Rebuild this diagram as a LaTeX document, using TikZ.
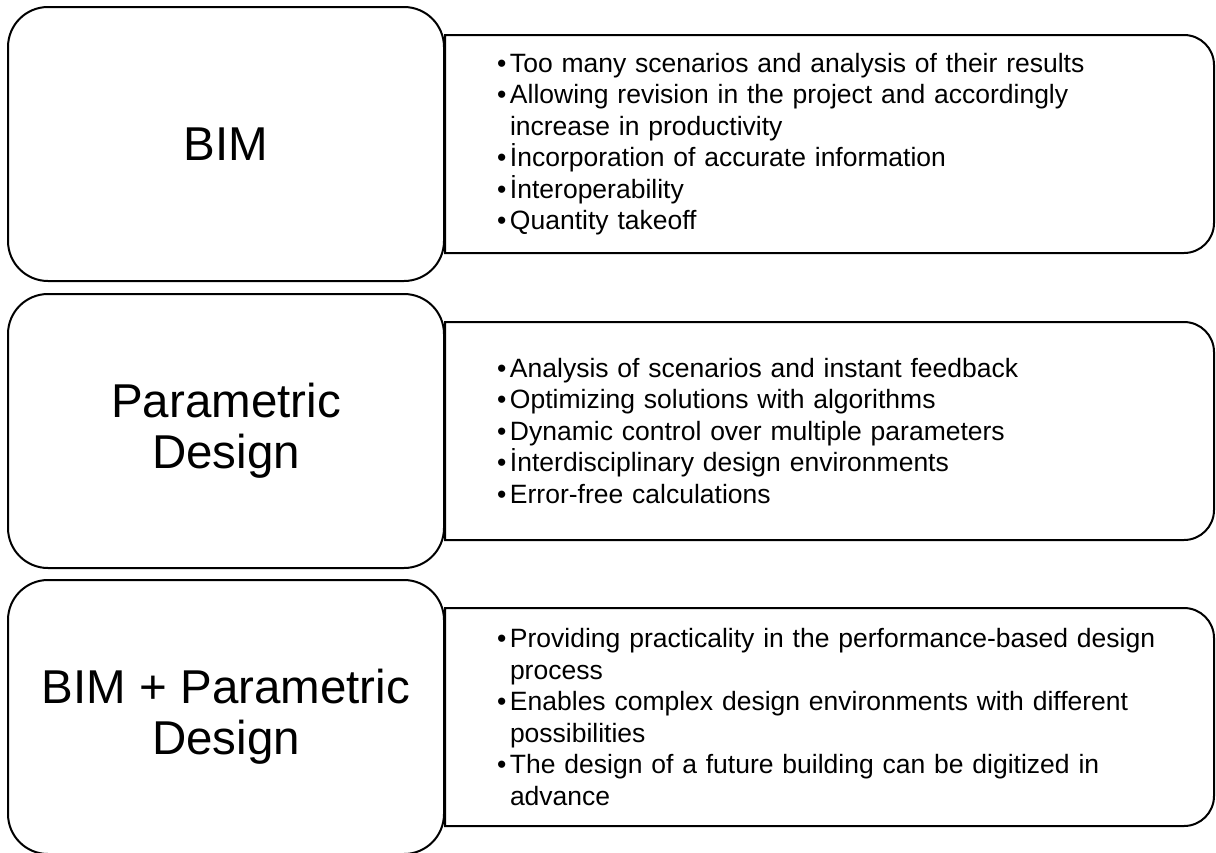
\documentclass[tikz,border=0pt]{standalone}
\usepackage{fontspec}
\setmainfont{Liberation Sans}
\usetikzlibrary{positioning}

\newcommand{\bul}{\makebox[6.5pt][l]{\textbullet}}
\newcommand{\cont}{\hspace*{6.5pt}}

\begin{document}
\begin{tikzpicture}[
    x=0.5pt, y=0.5pt,
    line width=1pt,
    topic/.style={draw, rounded corners=20pt, minimum width=218pt, minimum height=137pt,
        inner sep=0pt, outer sep=0pt, align=center,
        font=\fontsize{23.75pt}{25.5pt}\selectfont},
    info/.style={text width=332.5pt, inner xsep=26pt, inner ysep=0pt, outer sep=0pt,
        minimum height=109pt, align=left,
        font=\fontsize{13.25pt}{15.75pt}\selectfont}
]

    \useasboundingbox (0,0) rectangle (1216,-852);

    % Topic boxes
    \node[topic] (bim) at (226,-144) {BIM};
    \node[topic] (par) at (226,-431) {Parametric\\Design};
    \node[topic] (both) at (226,-717) {BIM + Parametric\\Design};

    % Info boxes
    \node[info, right=0.5pt of bim] (biminfo) {%
        \bul Too many scenarios and analysis of their results\\
        \bul Allowing revision in the project and accordingly\\
        \cont increase in productivity\\
        \bul İncorporation of accurate information\\
        \bul İnteroperability\\
        \bul Quantity takeoff};
    \node[info, right=0.5pt of par] (parinfo) {%
        \bul Analysis of scenarios and instant feedback\\
        \bul Optimizing solutions with algorithms\\
        \bul Dynamic control over multiple parameters\\
        \bul İnterdisciplinary design environments\\
        \bul Error-free calculations};
    \node[info, right=0.5pt of both] (bothinfo) {%
        \bul Providing practicality in the performance-based design\\
        \cont process\\
        \bul Enables complex design environments with different\\
        \cont possibilities\\
        \bul The design of a future building can be digitized in\\
        \cont advance};

    % Outlines, rounded on the right only
    \foreach \n in {biminfo, parinfo, bothinfo}
        \draw (\n.south west) -- (\n.north west)
            -- ([xshift=-15pt]\n.north east) arc[start angle=90, end angle=0, radius=15pt]
            -- ([yshift=15pt]\n.south east) arc[start angle=0, end angle=-90, radius=15pt]
            -- cycle;

\end{tikzpicture}
\end{document}
